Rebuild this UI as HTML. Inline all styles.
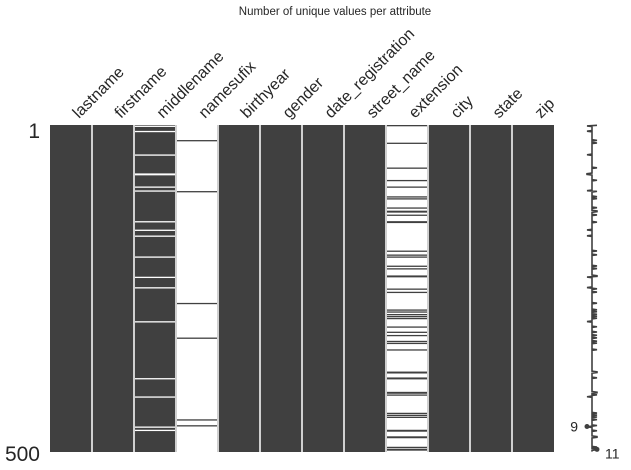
<!DOCTYPE html>
<html><head><meta charset="utf-8"><style>
html,body{margin:0;padding:0;background:#fff;}
svg{display:block;font-family:"Liberation Sans",Arial,sans-serif;}
</style></head><body>
<svg id="chart" width="631" height="470" xmlns="http://www.w3.org/2000/svg">
<text x="335" y="15" font-size="11.5" fill="#262626" text-anchor="middle">Number of unique values per attribute</text>
<g id="cols"></g><g id="labels"></g><g id="spark"></g>
<text x="40" y="138" font-size="21" fill="#262626" text-anchor="end">1</text>
<text x="40" y="461" font-size="21" fill="#262626" text-anchor="end">500</text>
</svg>
<script>
const columns = ["lastname","firstname","middlename","namesufix","birthyear","gender","date_registration","street_name","extension","city","state","zip"];
const totalRows = 500;
// rows where middlename is missing
const middlenameMissing = [2,10,46,75,76,95,101,148,161,170,202,233,249,301,388,416,462,467];
// rows where namesufix is present (otherwise missing)
const namesufixPresent = [24,102,273,326,451,460];
// rows where extension is present (otherwise missing)
const extensionPresent = [1,28,66,85,95,110,113,127,132,133,138,148,149,193,199,202,216,220,231,232,251,256,283,286,290,293,296,309,317,322,331,334,344,378,379,387,388,409,410,413,441,444,447,467,468,477,478,493,496,497];

const NS="http://www.w3.org/2000/svg";
const X0=50, Y0=125, CW=42, H=327;
const rh = H/totalRows;
const yOf = r => Y0 + (r-1)*rh;
function mk(tag, attrs, parent){const e=document.createElementNS(NS,tag);for(const k in attrs)e.setAttribute(k,attrs[k]);parent.appendChild(e);return e;}
const gc=document.getElementById('cols'), gl=document.getElementById('labels'), gs=document.getElementById('spark');
const DARK="#404040";

columns.forEach((c,i)=>{
  const x=X0+i*CW;
  let bg = (c==="namesufix"||c==="extension") ? "#ffffff" : DARK;
  const r=mk('rect',{x:x,y:Y0,width:CW,height:H,fill:bg},gc);
  
  
  let rows=[], col=null;
  if(c==="middlename"){rows=middlenameMissing;col="#ffffff";}
  if(c==="namesufix"){rows=namesufixPresent;col=DARK;}
  if(c==="extension"){rows=extensionPresent;col=DARK;}
  rows.forEach(rw=>{
    const l=mk('rect',{x:x,y:yOf(rw),width:CW,height:Math.max(rh,1.3),fill:col},gc);
    
    
  });
  const t=mk('text',{x:0,y:0,'font-size':16,fill:'#262626',transform:`translate(${x+CW/2+8},${Y0-6}) rotate(-45)`},gl);
  t.textContent=c;
  
  
});
// separators
for(let i=1;i<columns.length;i++){
  const s=mk('rect',{x:X0+i*CW-1,y:Y0,width:2,height:H,fill:'#d0d0d0'},gc);
  
  
}
// sparkline: completeness per row
const counts=[];
for(let r=1;r<=totalRows;r++){
  let n=9;
  if(!middlenameMissing.includes(r))n++;
  if(namesufixPresent.includes(r))n++;
  if(extensionPresent.includes(r))n++;
  counts.push(n);
}
const mn=Math.min(...counts), mx=Math.max(...counts);
const sx = v => 587 + (v-mn)*(10/(mx-mn||1));
let pts=counts.map((v,i)=>`${sx(v).toFixed(2)},${(yOf(i+1)+rh/2).toFixed(2)}`).join(' ');
const pl=mk('polyline',{points:pts,fill:'none',stroke:'#404040','stroke-width':1.6},gs);


const iMin=counts.lastIndexOf(mn), iMax=counts.lastIndexOf(mx);
const d1=mk('circle',{cx:sx(mn),cy:yOf(iMin+1),r:2.5,fill:'#404040'},gs);


const d2=mk('circle',{cx:sx(mx),cy:yOf(iMax+1),r:2.5,fill:'#404040'},gs);


const t1=mk('text',{x:sx(mn)-9,y:yOf(iMin+1)+5,'font-size':14,fill:'#262626','text-anchor':'end'},gs);
t1.textContent=mn;


const t2=mk('text',{x:sx(mx)+8,y:yOf(iMax+1)+9,'font-size':14,fill:'#262626'},gs);
t2.textContent=mx;


</script>
</body></html>
